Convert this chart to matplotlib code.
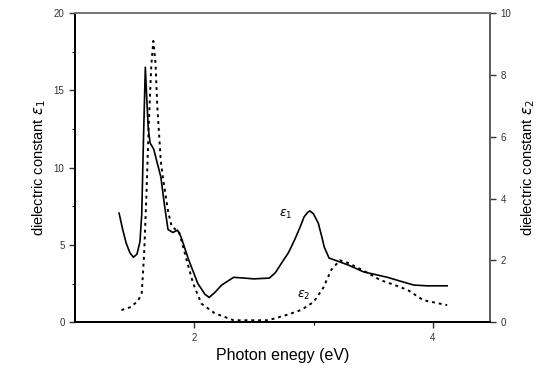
import matplotlib
matplotlib.use('Agg')
import matplotlib.pyplot as plt
from matplotlib.ticker import FixedLocator, MultipleLocator

plt.rcParams['font.family'] = ['Liberation Sans', 'DejaVu Sans']

# epsilon 1 (left axis)
e1_energy = [1.37, 1.40, 1.43, 1.46, 1.49, 1.52, 1.545, 1.56, 1.575, 1.59, 1.605, 1.615,
             1.63, 1.66, 1.69, 1.72, 1.75, 1.78, 1.82, 1.86, 1.89, 1.95, 2.03, 2.09,
             2.125, 2.17, 2.23, 2.33, 2.42, 2.5, 2.63, 2.68, 2.73, 2.79, 2.84, 2.89,
             2.92, 2.95, 2.97, 3.0, 3.04, 3.07, 3.09, 3.13, 3.2, 3.29, 3.42, 3.62,
             3.75, 3.84, 3.95, 4.12]
e1_values = [7.05, 6.0, 5.1, 4.5, 4.2, 4.4, 5.2, 7.0, 12.0, 16.5, 14.0, 12.5,
             11.6, 11.2, 10.3, 9.4, 7.6, 6.0, 5.8, 5.95, 5.5, 4.1, 2.5, 1.8,
             1.6, 1.9, 2.4, 2.9, 2.85, 2.8, 2.85, 3.2, 3.8, 4.5, 5.3, 6.2,
             6.8, 7.1, 7.2, 7.0, 6.4, 5.5, 4.85, 4.15, 3.95, 3.7, 3.25, 2.9,
             2.6, 2.4, 2.35, 2.35]

# epsilon 2 (right axis)
e2_energy = [1.39, 1.47, 1.53, 1.56, 1.58, 1.6, 1.62, 1.64, 1.657, 1.675, 1.69, 1.72,
             1.74, 1.78, 1.81, 1.875, 1.93, 1.99, 2.06, 2.17, 2.33, 2.62, 2.79, 2.9,
             3.0, 3.08, 3.15, 3.22, 3.3, 3.45, 3.56, 3.68, 3.79, 3.92, 4.12]
e2_values = [0.39, 0.49, 0.7, 0.94, 2.2, 4.2, 6.5, 8.3, 9.1, 8.4, 7.0, 5.2,
             4.6, 3.6, 3.1, 2.9, 2.1, 1.26, 0.6, 0.29, 0.06, 0.06, 0.25, 0.4,
             0.65, 1.1, 1.7, 2.0, 1.9, 1.6, 1.36, 1.2, 1.04, 0.71, 0.55]

fig = plt.figure(figsize=(5.47, 3.75), dpi=100)
ax = fig.add_axes([0.137, 0.141, 0.759, 0.824])
ax2 = ax.twinx()

ax.plot(e1_energy, e1_values, color='black', lw=1.2)
ax2.plot(e2_energy, e2_values, color='black', lw=1.4, linestyle=(0, (1.5, 2)))

ax.set_xlim(1.0, 4.48)
ax.set_ylim(0, 20)
ax2.set_ylim(0, 10)

ax.xaxis.set_major_locator(FixedLocator([2, 4]))
ax.xaxis.set_minor_locator(FixedLocator([3]))
ax.yaxis.set_major_locator(MultipleLocator(5))
ax.yaxis.set_minor_locator(MultipleLocator(2.5))
ax2.yaxis.set_major_locator(MultipleLocator(2))

for a in (ax, ax2):
    a.tick_params(direction='out', length=4, width=1, labelsize=7, colors='#333333')
    a.tick_params(which='minor', direction='out', length=2.5, width=0.8)
    for s in a.spines.values():
        s.set_linewidth(1.3)
ax.spines['top'].set_color('#777777')
ax2.spines['top'].set_color('#777777')
ax2.spines['right'].set_color('#666666')

ax.text(2.77, 7.0, r'$\epsilon_1$', fontsize=9, ha='center', va='center')
ax.text(2.92, 1.75, r'$\epsilon_2$', fontsize=9, ha='center', va='center')

ax.set_xlabel('Photon enegy (eV)', fontsize=11.5)
ax.set_ylabel(r'dielectric constant $\epsilon_1$', fontsize=10.5)
ax2.set_ylabel(r'dielectric constant $\epsilon_2$', fontsize=10.5, rotation=90, labelpad=6)

fig.savefig('out.png', dpi=100)
